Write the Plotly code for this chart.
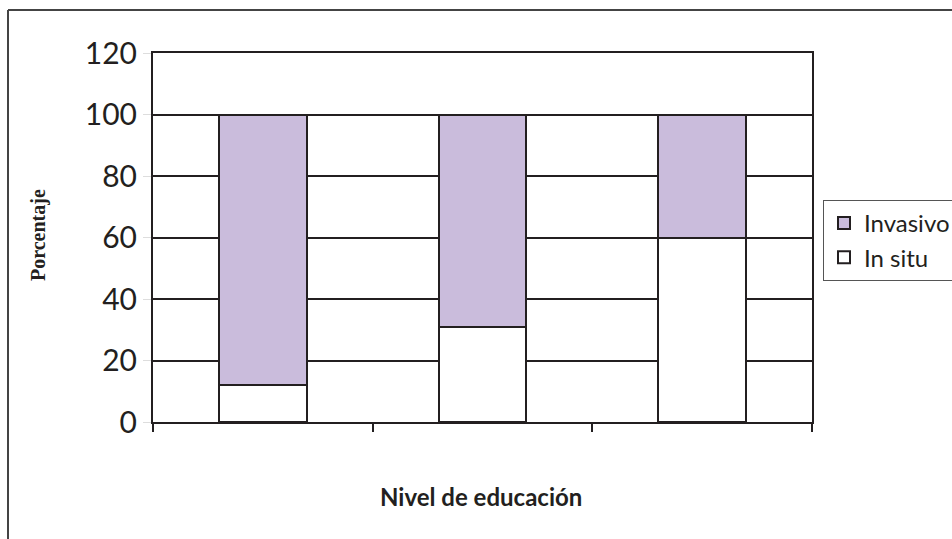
import plotly.graph_objects as go

# Education level groups (positions along the x axis; labels left blank)
niveles = [0, 1, 2]
in_situ = [12, 31, 60]
invasivo = [88, 69, 40]

y_ticks = [0, 20, 40, 60, 80, 100, 120]
x_bounds = [-0.5, 0.5, 1.5, 2.5]

ink = "#231f20"
lila = "#cabcdc"


def px_x(p):
    return (p - 153) / 659


def px_y(p):
    return (422 - p) / 369


fig = go.Figure()
fig.add_trace(go.Bar(
    x=niveles, y=in_situ, name="In situ", width=0.4,
    marker=dict(color="white", line=dict(color=ink, width=2)),
))
fig.add_trace(go.Bar(
    x=niveles, y=invasivo, name="Invasivo", width=0.4,
    marker=dict(color=lila, line=dict(color=ink, width=2)),
))

fig.update_layout(
    width=952, height=539,
    margin=dict(l=153, r=140, t=53, b=117, autoexpand=False),
    barmode="stack",
    plot_bgcolor="white", paper_bgcolor="white",
    font=dict(family="Lato", color=ink),
    showlegend=True,
    legend=dict(
        x=px_x(823), y=px_y(200), xanchor="left", yanchor="top",
        traceorder="reversed",
        bordercolor="#555555", borderwidth=1,
        font=dict(family="Lato", size=24, color=ink),
        itemwidth=30, tracegroupgap=0,
        entrywidth=150, entrywidthmode="pixels",
    ),
    xaxis=dict(
        range=[-0.5, 2.5], tickvals=x_bounds, ticktext=["", "", "", ""],
        showgrid=False, zeroline=False,
        showline=True, linecolor=ink, linewidth=2, mirror=True,
        ticks="outside", ticklen=8, tickwidth=2, tickcolor=ink,
    ),
    yaxis=dict(
        range=[0, 120], tickvals=y_ticks,
        showgrid=True, gridcolor=ink, gridwidth=2, zeroline=False,
        showline=True, linecolor=ink, linewidth=2, mirror=True,
        ticks="outside", ticklen=8, tickwidth=1, tickcolor="#dddddd",
        tickfont=dict(family="Lato", size=30, color=ink),
    ),
    annotations=[
        dict(text="<b>Porcentaje</b>", textangle=-90, xref="paper", yref="paper",
             x=px_x(38), y=px_y(235), xanchor="center", yanchor="middle",
             showarrow=False,
             font=dict(family="Liberation Serif", size=20, color=ink)),
        dict(text="<b>Nivel de educación</b>", xref="paper", yref="paper",
             x=px_x(481), y=px_y(496), xanchor="center", yanchor="middle",
             showarrow=False,
             font=dict(family="Lato", size=24, color=ink)),
    ],
    shapes=[
        # outer chart frame (top and left edges)
        dict(type="line", xref="paper", yref="paper",
             x0=px_x(8), x1=px_x(960), y0=px_y(10), y1=px_y(10),
             line=dict(color="#444444", width=2), layer="above"),
        dict(type="line", xref="paper", yref="paper",
             x0=px_x(8), x1=px_x(8), y0=px_y(10), y1=px_y(545),
             line=dict(color="#444444", width=2), layer="above"),
    ],
)

fig.write_html("out.html")
